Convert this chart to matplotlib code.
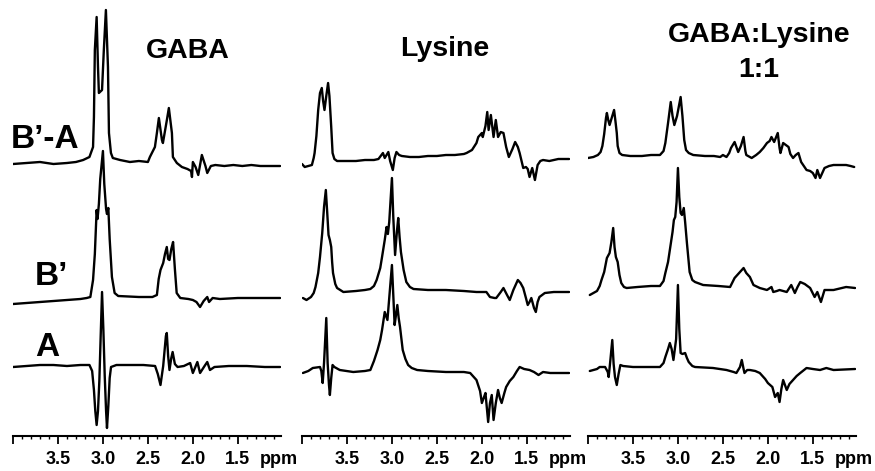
import matplotlib.pyplot as plt
from matplotlib.ticker import MultipleLocator

plt.rcParams['font.family'] = ['Liberation Sans', 'DejaVu Sans']

gaba_ba = [(4.00, -1), (3.85, 0), (3.70, 1), (3.55, -1), (3.40, 0), (3.30, 1), (3.22, 3), (3.15, 6),
           (3.11, 16), (3.10, 46), (3.09, 113), (3.07, 146), (3.055, 96), (3.045, 70), (3.01, 73),
           (2.99, 113), (2.967, 153), (2.944, 96), (2.933, 30), (2.911, 10), (2.89, 5), (2.81, 3),
           (2.70, 1), (2.60, 2), (2.50, 1), (2.478, 6), (2.422, 16), (2.40, 30), (2.378, 45),
           (2.344, 23), (2.333, 20), (2.289, 43), (2.267, 55), (2.233, 30), (2.222, 6), (2.178, 0),
           (2.122, -4), (2.06, -6), (2.02, -8), (2.01, -14), (2.00, 1), (1.97, -4), (1.94, -12),
           (1.90, 8), (1.86, -3), (1.84, -10), (1.80, -3), (1.75, -2), (1.65, -3), (1.55, -2),
           (1.45, -3), (1.35, -2), (1.25, -3), (1.15, -3), (1.03, -3)]

gaba_b = [(4.00, -5), (3.85, -4), (3.70, -3), (3.55, -2), (3.40, -1), (3.25, 0), (3.18, 1), (3.14, 2),
          (3.11, 19), (3.09, 45), (3.07, 89), (3.06, 80), (3.045, 95), (3.03, 120), (3.00, 148),
          (2.985, 115), (2.965, 90), (2.955, 85), (2.94, 91), (2.925, 60), (2.90, 22), (2.87, 6),
          (2.83, 3), (2.60, 2), (2.45, 2), (2.40, 4), (2.38, 20), (2.36, 29), (2.33, 36), (2.31, 45),
          (2.29, 52), (2.275, 40), (2.26, 39), (2.24, 50), (2.22, 57), (2.20, 30), (2.18, 6),
          (2.14, 1), (2.05, 0), (2.00, -1), (1.96, -3), (1.92, -8), (1.88, -2), (1.84, 2),
          (1.82, -3), (1.78, 1), (1.70, 0), (1.50, 1), (1.30, 1), (1.03, 1)]

gaba_a = [(4.00, -1), (3.85, 0), (3.70, 1), (3.55, 1), (3.40, 0), (3.25, 1), (3.15, 1), (3.12, -5),
          (3.10, -24), (3.085, -45), (3.07, -59), (3.055, -45), (3.04, -15), (3.025, 30), (3.01, 74),
          (2.995, 36), (2.98, -10), (2.965, -45), (2.955, -62), (2.94, -40), (2.925, -12), (2.91, -1),
          (2.85, 1), (2.70, 1), (2.55, 1), (2.42, 0), (2.39, -8), (2.36, -19), (2.33, 0), (2.30, 30),
          (2.29, 33), (2.275, 10), (2.26, -4), (2.24, 8), (2.225, 14), (2.20, 2), (2.17, -1),
          (2.10, 0), (2.03, 3), (2.00, -7), (1.95, 4), (1.92, -7), (1.87, 0), (1.84, 4), (1.81, -4),
          (1.76, -1), (1.60, 0), (1.40, 0), (1.20, -1), (1.03, -1)]

lys_ba = [(4.00, -3), (3.97, -6), (3.93, -5), (3.89, -4), (3.87, 3), (3.86, 8), (3.84, 25), (3.82, 51),
          (3.80, 68), (3.78, 73), (3.765, 60), (3.75, 51), (3.73, 65), (3.71, 78), (3.695, 65),
          (3.675, 34), (3.66, 8), (3.64, 2), (3.61, 0), (3.50, 0), (3.40, 0), (3.30, 1), (3.20, 1),
          (3.15, 2), (3.10, 8), (3.08, 3), (3.04, 9), (3.02, 0), (2.99, -9), (2.97, 3), (2.95, 9),
          (2.92, 6), (2.89, 5), (2.80, 4), (2.70, 4), (2.60, 5), (2.50, 5), (2.40, 6), (2.30, 6),
          (2.20, 7), (2.17, 8), (2.11, 11), (2.06, 18), (2.04, 24), (2.00, 28), (1.99, 24),
          (1.96, 35), (1.94, 49), (1.925, 31), (1.90, 46), (1.87, 24), (1.845, 41), (1.82, 24),
          (1.79, 29), (1.76, 28), (1.73, 14), (1.70, 4), (1.66, 12), (1.63, 19), (1.60, 14),
          (1.58, 8), (1.54, -7), (1.51, -6), (1.49, -8), (1.47, -16), (1.44, -7), (1.41, -19),
          (1.38, -4), (1.35, 0), (1.32, 1), (1.25, 0), (1.15, 2), (1.03, 2)]

lys_b = [(3.99, -6), (3.95, -8), (3.90, -5), (3.87, -1), (3.85, 5), (3.82, 19), (3.80, 35), (3.775, 59),
         (3.755, 85), (3.735, 102), (3.72, 80), (3.705, 57), (3.69, 52), (3.675, 45), (3.665, 30),
         (3.655, 19), (3.63, 8), (3.61, 4), (3.54, 0), (3.40, 1), (3.30, 2), (3.24, 3), (3.20, 6),
         (3.17, 12), (3.13, 24), (3.11, 35), (3.08, 52), (3.06, 65), (3.045, 58), (3.03, 70),
         (3.00, 114), (2.985, 75), (2.965, 37), (2.945, 60), (2.93, 74), (2.915, 55), (2.90, 40),
         (2.87, 22), (2.84, 10), (2.80, 5), (2.76, 3), (2.60, 2), (2.40, 2), (2.20, 1), (2.06, 0),
         (1.95, 0), (1.91, -5), (1.86, -6), (1.84, -6), (1.79, 0), (1.76, 4), (1.72, -3),
         (1.69, -8), (1.65, 2), (1.60, 12), (1.57, 9), (1.54, 4), (1.51, -6), (1.49, -13),
         (1.47, -10), (1.45, -6), (1.42, -16), (1.40, -20), (1.38, -10), (1.36, -5), (1.30, -1),
         (1.20, 0), (1.03, 0)]

lys_a = [(3.99, 0), (3.93, 2), (3.88, 5), (3.80, 6), (3.785, 2), (3.77, -10), (3.755, 10), (3.73, 55),
         (3.715, 10), (3.70, -12), (3.69, -22), (3.675, -5), (3.66, 8), (3.64, 6), (3.58, 3),
         (3.43, 1), (3.30, 2), (3.24, 3), (3.20, 12), (3.16, 23), (3.13, 33), (3.11, 43), (3.08, 61),
         (3.05, 53), (3.03, 75), (3.00, 108), (2.985, 78), (2.97, 48), (2.955, 58), (2.94, 68),
         (2.925, 55), (2.91, 46), (2.88, 23), (2.85, 14), (2.82, 8), (2.78, 5), (2.72, 3),
         (2.60, 2), (2.40, 1), (2.20, 1), (2.13, 0), (2.06, -7), (2.02, -18), (2.00, -30),
         (1.98, -25), (1.96, -20), (1.93, -49), (1.91, -30), (1.89, -22), (1.87, -47), (1.845, -30),
         (1.82, -17), (1.80, -25), (1.78, -30), (1.75, -20), (1.73, -14), (1.69, -8), (1.65, -4),
         (1.61, 2), (1.58, 6), (1.53, 4), (1.47, 3), (1.42, 1), (1.37, -2), (1.32, 1), (1.24, 0),
         (1.03, 0)]

mix_ba = [(4.00, -2), (3.94, -1), (3.89, 1), (3.86, 4), (3.84, 10), (3.82, 22), (3.80, 38), (3.79, 43),
          (3.775, 36), (3.76, 31), (3.73, 40), (3.71, 46), (3.695, 35), (3.68, 23), (3.67, 10),
          (3.65, 3), (3.62, 1), (3.53, 0), (3.40, 0), (3.30, 1), (3.20, 1), (3.16, 5), (3.14, 13),
          (3.11, 33), (3.08, 54), (3.06, 40), (3.04, 31), (3.01, 40), (2.97, 59), (2.95, 40),
          (2.93, 16), (2.91, 6), (2.88, 3), (2.83, 1), (2.70, 0), (2.60, 0), (2.53, -1), (2.50, 1),
          (2.46, -1), (2.43, 3), (2.41, 8), (2.37, 14), (2.33, 4), (2.30, 10), (2.27, 19), (2.25, 5),
          (2.24, 1), (2.18, -2), (2.13, 1), (2.09, 4), (2.05, 8), (2.01, 13), (1.98, 15), (1.96, 19),
          (1.93, 14), (1.89, 23), (1.87, 8), (1.86, 3), (1.83, 13), (1.80, 11), (1.77, 9), (1.75, 2),
          (1.72, -2), (1.69, 1), (1.66, 3), (1.63, -6), (1.60, -10), (1.57, -14), (1.53, -15),
          (1.50, -17), (1.47, -22), (1.45, -14), (1.42, -22), (1.37, -12), (1.32, -10), (1.27, -9),
          (1.20, -9), (1.13, -9), (1.08, -10), (1.04, -11)]

mix_b = [(3.98, -8), (3.94, -6), (3.90, -4), (3.87, 1), (3.85, 7), (3.82, 15), (3.79, 29), (3.76, 34),
         (3.74, 45), (3.72, 59), (3.705, 40), (3.69, 30), (3.67, 25), (3.65, 12), (3.63, 4),
         (3.60, 0), (3.57, -1), (3.45, 0), (3.30, 1), (3.20, 1), (3.16, 6), (3.14, 14), (3.11, 25),
         (3.09, 37), (3.06, 55), (3.045, 67), (3.03, 70), (3.015, 85), (3.00, 119), (2.985, 90),
         (2.97, 74), (2.955, 72), (2.935, 79), (2.92, 65), (2.90, 44), (2.87, 15), (2.84, 7),
         (2.81, 5), (2.72, 2), (2.55, 1), (2.42, 0), (2.37, 9), (2.31, 15), (2.27, 19), (2.24, 14),
         (2.20, 10), (2.16, 2), (2.09, -1), (2.01, -3), (1.96, 0), (1.94, -5), (1.90, -4),
         (1.87, -3), (1.79, -5), (1.74, 2), (1.70, -6), (1.67, 0), (1.64, 5), (1.59, 3), (1.53, -1),
         (1.48, -10), (1.45, -5), (1.41, -15), (1.37, -3), (1.27, -3), (1.13, 0), (1.03, -1)]

mix_a = [(3.98, -2), (3.90, 0), (3.87, 2), (3.81, 2), (3.78, -3), (3.77, -8), (3.75, 10), (3.73, 29),
         (3.715, 5), (3.70, -8), (3.68, -16), (3.66, -5), (3.64, 4), (3.61, 3), (3.50, 2), (3.35, 2),
         (3.20, 2), (3.16, 6), (3.14, 12), (3.11, 20), (3.09, 26), (3.07, 20), (3.05, 9), (3.02, 30),
         (3.00, 84), (2.985, 40), (2.97, 16), (2.95, 15), (2.92, 16), (2.90, 11), (2.88, 7),
         (2.84, 3), (2.81, 2), (2.61, 1), (2.46, -1), (2.38, -3), (2.35, -4), (2.31, 2), (2.29, 9),
         (2.27, 0), (2.26, -4), (2.23, -1), (2.20, -1), (2.14, -2), (2.09, -4), (2.03, -10),
         (2.00, -14), (1.95, -18), (1.92, -28), (1.89, -24), (1.87, -33), (1.85, -20), (1.83, -11),
         (1.79, -21), (1.76, -15), (1.72, -11), (1.68, -7), (1.64, -4), (1.57, 1), (1.50, 0),
         (1.42, -1), (1.35, 1), (1.27, -1), (1.03, 0)]

panel_titles = ['GABA', 'Lysine', 'GABA:Lysine\n1:1']
trace_labels = ['B\u2019-A', 'B\u2019', 'A']
tick_values = [3.5, 3.0, 2.5, 2.0, 1.5]
tick_labels = ['3.5', '3.0', '2.5', '2.0', '1.5']

panels = [[gaba_ba, gaba_b, gaba_a], [lys_ba, lys_b, lys_a], [mix_ba, mix_b, mix_a]]

# layout (pixels): trace baselines above the ppm axis, panel left edges, title baselines
offsets = [[273, 137, 70], [275, 144, 63], [280, 149, 67]]
lefts = [13, 302, 588]
title_pos = [(188, [58]), (445, [56]), (759, [42, 77])]
label_pos = [(45, 148), (51, 285), (47, 356)]

W, H = 875, 471
fig = plt.figure(figsize=(W / 100, H / 100), dpi=100)

for i, traces in enumerate(panels):
    ax = fig.add_axes([lefts[i] / W, 35 / H, 268 / W, 436 / H])
    for trace, off in zip(traces, offsets[i]):
        ppm = [p for p, v in trace]
        inten = [v + off for p, v in trace]
        ax.plot(ppm, inten, color='black', lw=1.7, solid_joinstyle='round', solid_capstyle='round')
    ax.set_xlim(4.0, 1.02)
    ax.set_ylim(0, 436)
    ax.patch.set_visible(False)
    for s in ['left', 'right', 'top']:
        ax.spines[s].set_visible(False)
    ax.spines['bottom'].set_linewidth(1.5)
    ax.set_yticks([])
    ax.set_xticks([4.0] + tick_values)
    ax.set_xticklabels([''] + tick_labels, fontsize=13, fontweight='bold')
    ax.xaxis.set_minor_locator(MultipleLocator(0.1))
    ax.tick_params(axis='x', which='major', direction='out', length=6, width=1.3, pad=5)
    ax.tick_params(axis='x', which='minor', direction='out', length=2.5, width=1.0)
    ax.annotate('ppm', xy=(1.04, 0), xycoords=('data', 'axes fraction'), xytext=(0, -11),
                textcoords='offset points', ha='center', va='top', fontsize=13, fontweight='bold',
                annotation_clip=False)

# panel titles
for title, (x, baselines) in zip(panel_titles, title_pos):
    for line, y in zip(title.split('\n'), baselines):
        fig.text(x / W, 1 - y / H, line, ha='center', va='baseline', fontsize=20.5, fontweight='bold')

# trace labels
for lab, (x, y) in zip(trace_labels, label_pos):
    fig.text(x / W, 1 - y / H, lab, ha='center', va='baseline', fontsize=24, fontweight='bold')

fig.savefig('out.png', dpi=100)
